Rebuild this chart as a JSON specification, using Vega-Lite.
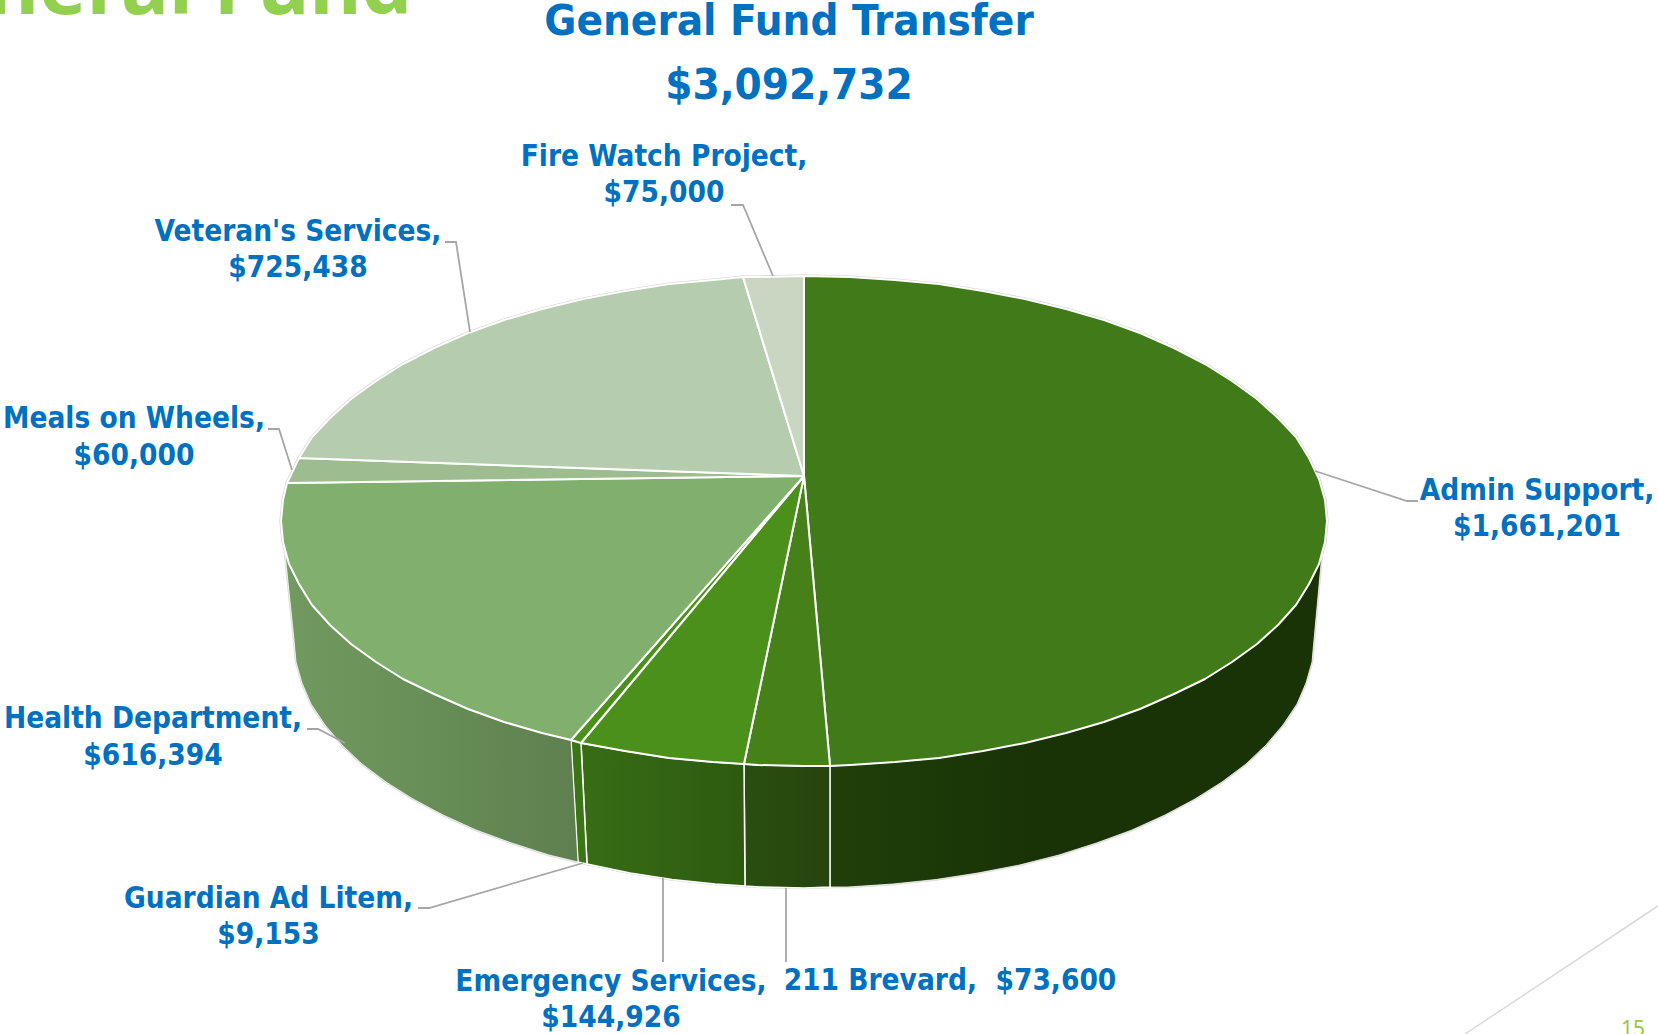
{"$schema":"https://vega.github.io/schema/vega-lite/v6.json","width":1658,"height":1034,"padding":0,"autosize":{"type":"none"},"background":"white","view":{"stroke":null},
"datasets":{
"top":[
{"s":"Admin Support","i":0,"x":804,"y":476},{"s":"Admin Support","i":1,"x":804,"y":276},{"s":"Admin Support","i":2,"x":850,"y":277},{"s":"Admin Support","i":3,"x":895,"y":280},{"s":"Admin Support","i":4,"x":939,"y":284},{"s":"Admin Support","i":5,"x":983,"y":291},{"s":"Admin Support","i":6,"x":1025,"y":299},{"s":"Admin Support","i":7,"x":1066,"y":309},{"s":"Admin Support","i":8,"x":1104,"y":320},{"s":"Admin Support","i":9,"x":1140,"y":333},{"s":"Admin Support","i":10,"x":1174,"y":348},{"s":"Admin Support","i":11,"x":1205,"y":364},{"s":"Admin Support","i":12,"x":1232,"y":381},{"s":"Admin Support","i":13,"x":1257,"y":399},{"s":"Admin Support","i":14,"x":1278,"y":418},{"s":"Admin Support","i":15,"x":1296,"y":437},{"s":"Admin Support","i":16,"x":1309,"y":458},{"s":"Admin Support","i":17,"x":1319,"y":479},{"s":"Admin Support","i":18,"x":1325,"y":500},{"s":"Admin Support","i":19,"x":1327,"y":521},{"s":"Admin Support","i":20,"x":1325,"y":542},{"s":"Admin Support","i":21,"x":1319,"y":564},{"s":"Admin Support","i":22,"x":1309,"y":584},{"s":"Admin Support","i":23,"x":1296,"y":605},{"s":"Admin Support","i":24,"x":1278,"y":625},{"s":"Admin Support","i":25,"x":1257,"y":644},{"s":"Admin Support","i":26,"x":1232,"y":662},{"s":"Admin Support","i":27,"x":1205,"y":679},{"s":"Admin Support","i":28,"x":1174,"y":694},{"s":"Admin Support","i":29,"x":1140,"y":709},{"s":"Admin Support","i":30,"x":1104,"y":722},{"s":"Admin Support","i":31,"x":1066,"y":733},{"s":"Admin Support","i":32,"x":1025,"y":743},{"s":"Admin Support","i":33,"x":983,"y":751},{"s":"Admin Support","i":34,"x":939,"y":758},{"s":"Admin Support","i":35,"x":895,"y":762},{"s":"Admin Support","i":36,"x":850,"y":765},{"s":"Admin Support","i":37,"x":830,"y":766},{"s":"Admin Support","i":38,"x":804,"y":476},
{"s":"211 Brevard","i":0,"x":804,"y":476},{"s":"211 Brevard","i":1,"x":830,"y":766},{"s":"211 Brevard","i":2,"x":804,"y":766},{"s":"211 Brevard","i":3,"x":758,"y":765},{"s":"211 Brevard","i":4,"x":744,"y":764},{"s":"211 Brevard","i":5,"x":804,"y":476},
{"s":"Emergency Services","i":0,"x":804,"y":476},{"s":"Emergency Services","i":1,"x":744,"y":764},{"s":"Emergency Services","i":2,"x":713,"y":762},{"s":"Emergency Services","i":3,"x":669,"y":758},{"s":"Emergency Services","i":4,"x":625,"y":751},{"s":"Emergency Services","i":5,"x":581,"y":743},{"s":"Emergency Services","i":6,"x":804,"y":476},
{"s":"Guardian Ad Litem","i":0,"x":804,"y":476},{"s":"Guardian Ad Litem","i":1,"x":581,"y":743},{"s":"Guardian Ad Litem","i":2,"x":571,"y":740},{"s":"Guardian Ad Litem","i":3,"x":804,"y":476},
{"s":"Health Department","i":0,"x":804,"y":476},{"s":"Health Department","i":1,"x":571,"y":740},{"s":"Health Department","i":2,"x":542,"y":733},{"s":"Health Department","i":3,"x":504,"y":722},{"s":"Health Department","i":4,"x":468,"y":709},{"s":"Health Department","i":5,"x":434,"y":694},{"s":"Health Department","i":6,"x":403,"y":679},{"s":"Health Department","i":7,"x":376,"y":662},{"s":"Health Department","i":8,"x":351,"y":644},{"s":"Health Department","i":9,"x":330,"y":625},{"s":"Health Department","i":10,"x":312,"y":605},{"s":"Health Department","i":11,"x":299,"y":584},{"s":"Health Department","i":12,"x":289,"y":564},{"s":"Health Department","i":13,"x":283,"y":542},{"s":"Health Department","i":14,"x":281,"y":521},{"s":"Health Department","i":15,"x":283,"y":500},{"s":"Health Department","i":16,"x":287,"y":483},{"s":"Health Department","i":17,"x":804,"y":476},
{"s":"Meals on Wheels","i":0,"x":804,"y":476},{"s":"Meals on Wheels","i":1,"x":287,"y":483},{"s":"Meals on Wheels","i":2,"x":289,"y":479},{"s":"Meals on Wheels","i":3,"x":299,"y":458},{"s":"Meals on Wheels","i":4,"x":804,"y":476},
{"s":"Veteran's Services","i":0,"x":804,"y":476},{"s":"Veteran's Services","i":1,"x":299,"y":458},{"s":"Veteran's Services","i":2,"x":312,"y":437},{"s":"Veteran's Services","i":3,"x":330,"y":418},{"s":"Veteran's Services","i":4,"x":351,"y":399},{"s":"Veteran's Services","i":5,"x":376,"y":381},{"s":"Veteran's Services","i":6,"x":403,"y":364},{"s":"Veteran's Services","i":7,"x":434,"y":348},{"s":"Veteran's Services","i":8,"x":468,"y":333},{"s":"Veteran's Services","i":9,"x":504,"y":320},{"s":"Veteran's Services","i":10,"x":542,"y":309},{"s":"Veteran's Services","i":11,"x":583,"y":299},{"s":"Veteran's Services","i":12,"x":625,"y":291},{"s":"Veteran's Services","i":13,"x":669,"y":284},{"s":"Veteran's Services","i":14,"x":713,"y":280},{"s":"Veteran's Services","i":15,"x":743,"y":277},{"s":"Veteran's Services","i":16,"x":804,"y":476},
{"s":"Fire Watch Project","i":0,"x":804,"y":476},{"s":"Fire Watch Project","i":1,"x":743,"y":277},{"s":"Fire Watch Project","i":2,"x":758,"y":277},{"s":"Fire Watch Project","i":3,"x":804,"y":276},{"s":"Fire Watch Project","i":4,"x":804,"y":476}
],
"side":[
{"s":"Admin Support","i":0,"x":1322,"y":553},{"s":"Admin Support","i":1,"x":1319,"y":564},{"s":"Admin Support","i":2,"x":1309,"y":584},{"s":"Admin Support","i":3,"x":1296,"y":605},{"s":"Admin Support","i":4,"x":1278,"y":625},{"s":"Admin Support","i":5,"x":1257,"y":644},{"s":"Admin Support","i":6,"x":1232,"y":662},{"s":"Admin Support","i":7,"x":1205,"y":679},{"s":"Admin Support","i":8,"x":1174,"y":694},{"s":"Admin Support","i":9,"x":1140,"y":709},{"s":"Admin Support","i":10,"x":1104,"y":722},{"s":"Admin Support","i":11,"x":1066,"y":733},{"s":"Admin Support","i":12,"x":1025,"y":743},{"s":"Admin Support","i":13,"x":983,"y":751},{"s":"Admin Support","i":14,"x":939,"y":758},{"s":"Admin Support","i":15,"x":895,"y":762},{"s":"Admin Support","i":16,"x":850,"y":765},{"s":"Admin Support","i":17,"x":830,"y":766},{"s":"Admin Support","i":18,"x":830,"y":887},{"s":"Admin Support","i":19,"x":848,"y":887},{"s":"Admin Support","i":20,"x":893,"y":884},{"s":"Admin Support","i":21,"x":936,"y":879.5},{"s":"Admin Support","i":22,"x":978,"y":873},{"s":"Admin Support","i":23,"x":1019.5,"y":865},{"s":"Admin Support","i":24,"x":1059,"y":855},{"s":"Admin Support","i":25,"x":1096.5,"y":843},{"s":"Admin Support","i":26,"x":1132,"y":830},{"s":"Admin Support","i":27,"x":1165,"y":815},{"s":"Admin Support","i":28,"x":1195,"y":799},{"s":"Admin Support","i":29,"x":1222,"y":782},{"s":"Admin Support","i":30,"x":1246,"y":764},{"s":"Admin Support","i":31,"x":1266,"y":745},{"s":"Admin Support","i":32,"x":1283,"y":725},{"s":"Admin Support","i":33,"x":1297,"y":704},{"s":"Admin Support","i":34,"x":1306,"y":683},{"s":"Admin Support","i":35,"x":1312,"y":662},{"s":"Admin Support","i":36,"x":1314,"y":640},{"s":"Admin Support","i":37,"x":1322,"y":553},
{"s":"211 Brevard","i":0,"x":830,"y":766},{"s":"211 Brevard","i":1,"x":804,"y":766},{"s":"211 Brevard","i":2,"x":758,"y":765},{"s":"211 Brevard","i":3,"x":744,"y":764},{"s":"211 Brevard","i":4,"x":745,"y":886},{"s":"211 Brevard","i":5,"x":760,"y":887},{"s":"211 Brevard","i":6,"x":804,"y":888},{"s":"211 Brevard","i":7,"x":830,"y":887},{"s":"211 Brevard","i":8,"x":830,"y":766},
{"s":"Emergency Services","i":0,"x":744,"y":764},{"s":"Emergency Services","i":1,"x":713,"y":762},{"s":"Emergency Services","i":2,"x":669,"y":758},{"s":"Emergency Services","i":3,"x":625,"y":751},{"s":"Emergency Services","i":4,"x":581,"y":743},{"s":"Emergency Services","i":5,"x":587,"y":864},{"s":"Emergency Services","i":6,"x":630,"y":873},{"s":"Emergency Services","i":7,"x":672,"y":879.5},{"s":"Emergency Services","i":8,"x":715,"y":884},{"s":"Emergency Services","i":9,"x":745,"y":886},{"s":"Emergency Services","i":10,"x":744,"y":764},
{"s":"Guardian Ad Litem","i":0,"x":581,"y":743},{"s":"Guardian Ad Litem","i":1,"x":571,"y":740},{"s":"Guardian Ad Litem","i":2,"x":578,"y":862},{"s":"Guardian Ad Litem","i":3,"x":587,"y":864},{"s":"Guardian Ad Litem","i":4,"x":581,"y":743},
{"s":"Health Department","i":0,"x":571,"y":740},{"s":"Health Department","i":1,"x":542,"y":733},{"s":"Health Department","i":2,"x":504,"y":722},{"s":"Health Department","i":3,"x":468,"y":709},{"s":"Health Department","i":4,"x":434,"y":694},{"s":"Health Department","i":5,"x":403,"y":679},{"s":"Health Department","i":6,"x":376,"y":662},{"s":"Health Department","i":7,"x":351,"y":644},{"s":"Health Department","i":8,"x":330,"y":625},{"s":"Health Department","i":9,"x":312,"y":605},{"s":"Health Department","i":10,"x":299,"y":584},{"s":"Health Department","i":11,"x":289,"y":564},{"s":"Health Department","i":12,"x":285,"y":553},{"s":"Health Department","i":13,"x":294,"y":640},{"s":"Health Department","i":14,"x":296,"y":662},{"s":"Health Department","i":15,"x":302,"y":683},{"s":"Health Department","i":16,"x":311,"y":704},{"s":"Health Department","i":17,"x":325,"y":725},{"s":"Health Department","i":18,"x":342,"y":745},{"s":"Health Department","i":19,"x":362,"y":764},{"s":"Health Department","i":20,"x":386,"y":782},{"s":"Health Department","i":21,"x":413,"y":799},{"s":"Health Department","i":22,"x":443,"y":815},{"s":"Health Department","i":23,"x":476,"y":830},{"s":"Health Department","i":24,"x":511.5,"y":843},{"s":"Health Department","i":25,"x":549,"y":855},{"s":"Health Department","i":26,"x":578,"y":862},{"s":"Health Department","i":27,"x":571,"y":740}
],
"leaders":[
{"k":"Fire","i":0,"x":731,"y":205},{"k":"Fire","i":1,"x":743,"y":205},{"k":"Fire","i":2,"x":773,"y":276},
{"k":"Vet","i":0,"x":445,"y":242},{"k":"Vet","i":1,"x":456,"y":242},{"k":"Vet","i":2,"x":470,"y":332},
{"k":"Meals","i":0,"x":268,"y":429},{"k":"Meals","i":1,"x":279,"y":429},{"k":"Meals","i":2,"x":292,"y":470},
{"k":"Health","i":0,"x":307,"y":729},{"k":"Health","i":1,"x":318,"y":729},{"k":"Health","i":2,"x":345,"y":743},
{"k":"Guardian","i":0,"x":418,"y":908},{"k":"Guardian","i":1,"x":429,"y":908},{"k":"Guardian","i":2,"x":583,"y":863},
{"k":"Emergency","i":0,"x":663,"y":878},{"k":"Emergency","i":1,"x":663,"y":962},
{"k":"211","i":0,"x":786,"y":888},{"k":"211","i":1,"x":786,"y":962},
{"k":"Admin","i":0,"x":1315,"y":471},{"k":"Admin","i":1,"x":1407,"y":501},{"k":"Admin","i":2,"x":1418,"y":501}
],
"diag":[{"i":0,"x":1465,"y":1034},{"i":1,"x":1658,"y":906}],
"labels":[
{"t":"Fire Watch Project,","x":664,"y":156.5},{"t":"$75,000","x":664,"y":192.5},
{"t":"Veteran's Services,","x":298,"y":231.5},{"t":"$725,438","x":298,"y":267.5},
{"t":"Meals on Wheels,","x":134,"y":419},{"t":"$60,000","x":134,"y":456},
{"t":"Health Department,","x":153,"y":719},{"t":"$616,394","x":153,"y":756},
{"t":"Guardian Ad Litem,","x":268.5,"y":899},{"t":"$9,153","x":268.5,"y":935},
{"t":"Emergency Services,","x":611,"y":982},{"t":"$144,926","x":611,"y":1018},
{"t":"211 Brevard, \u00a0$73,600","x":950,"y":981},
{"t":"Admin Support,","x":1537,"y":491},{"t":"$1,661,201","x":1537,"y":527}
],
"titles":[{"t":"General Fund Transfer","x":789,"y":22},{"t":"$3,092,732","x":789,"y":86}],
"heading":[{"t":"General Fund","x":412,"y":14}],
"page":[{"t":"15","x":1633,"y":1030}]
},
"encoding":{
"x":{"field":"x","type":"quantitative","axis":null,"scale":{"domain":[0,1658],"nice":false,"zero":false}},
"y":{"field":"y","type":"quantitative","axis":null,"scale":{"domain":[1034,0],"nice":false,"zero":false}}
},
"layer":[
{"data":{"name":"top"},"mark":{"type":"line","stroke":"#d0d0d0","strokeWidth":3.2,"strokeJoin":"round","fill":null},"encoding":{"detail":{"field":"s"},"order":{"field":"i","type":"quantitative"}}},
{"data":{"name":"side"},"mark":{"type":"line","stroke":"#d8d8d8","strokeWidth":2.5,"strokeJoin":"round","fill":null},"encoding":{"detail":{"field":"s"},"order":{"field":"i","type":"quantitative"}}},
{"data":{"name":"side"},"transform":[{"filter":"datum.s==='Admin Support'"}],"mark":{"type":"line","fill":{"gradient":"linear","x1":0,"y1":0,"x2":1,"y2":0,"stops":[{"offset":0,"color":"#1f3f0a"},{"offset":0.4,"color":"#193306"},{"offset":1,"color":"#193306"}]},"stroke":"#ffffff","strokeWidth":0.8,"strokeJoin":"round"},"encoding":{"order":{"field":"i","type":"quantitative"}}},
{"data":{"name":"side"},"transform":[{"filter":"datum.s==='211 Brevard'"}],"mark":{"type":"line","fill":{"gradient":"linear","x1":0,"y1":0,"x2":1,"y2":0,"stops":[{"offset":0,"color":"#2a4e10"},{"offset":1,"color":"#26440d"}]},"stroke":"#ffffff","strokeWidth":1.5,"strokeJoin":"round"},"encoding":{"order":{"field":"i","type":"quantitative"}}},
{"data":{"name":"side"},"transform":[{"filter":"datum.s==='Emergency Services'"}],"mark":{"type":"line","fill":{"gradient":"linear","x1":0,"y1":0,"x2":1,"y2":0,"stops":[{"offset":0,"color":"#386d15"},{"offset":1,"color":"#2d5a10"}]},"stroke":"#ffffff","strokeWidth":1.5,"strokeJoin":"round"},"encoding":{"order":{"field":"i","type":"quantitative"}}},
{"data":{"name":"side"},"transform":[{"filter":"datum.s==='Guardian Ad Litem'"}],"mark":{"type":"line","fill":"#3c7516","stroke":"#ffffff","strokeWidth":1.5,"strokeJoin":"round"},"encoding":{"order":{"field":"i","type":"quantitative"}}},
{"data":{"name":"side"},"transform":[{"filter":"datum.s==='Health Department'"}],"mark":{"type":"line","fill":{"gradient":"linear","x1":0,"y1":0,"x2":1,"y2":0,"stops":[{"offset":0,"color":"#72995f"},{"offset":0.5,"color":"#668e56"},{"offset":1,"color":"#5f7f50"}]},"stroke":"#ffffff","strokeWidth":0.8,"strokeJoin":"round"},"encoding":{"order":{"field":"i","type":"quantitative"}}},
{"data":{"name":"top"},"mark":{"type":"line","stroke":"#ffffff","strokeWidth":2,"strokeJoin":"round"},"encoding":{"fill":{"field":"s","type":"nominal","legend":null,"scale":{"domain":["Admin Support","211 Brevard","Emergency Services","Guardian Ad Litem","Health Department","Meals on Wheels","Veteran's Services","Fire Watch Project"],"range":["#417b19","#458019","#4c901c","#4c901c","#80af6e","#9dbd90","#b6ccae","#c9d7c2"]}},"order":{"field":"i","type":"quantitative"}}},
{"data":{"name":"leaders"},"mark":{"type":"line","stroke":"#a6a6a6","strokeWidth":1.8},"encoding":{"detail":{"field":"k"},"order":{"field":"i","type":"quantitative"}}},
{"data":{"name":"diag"},"mark":{"type":"line","stroke":"#d9d9d9","strokeWidth":1.5},"encoding":{"order":{"field":"i","type":"quantitative"}}},
{"data":{"name":"labels"},"mark":{"type":"text","font":"DejaVu Sans Condensed","fontWeight":"bold","fontSize":29.5,"fill":"#0070c0","align":"center","baseline":"middle"},"encoding":{"text":{"field":"t"}}},
{"data":{"name":"titles"},"mark":{"type":"text","font":"DejaVu Sans Condensed","fontWeight":"bold","fontSize":43.5,"fill":"#0070c0","align":"center","baseline":"middle"},"encoding":{"text":{"field":"t"}}},
{"data":{"name":"heading"},"mark":{"type":"text","font":"Noto Sans","fontWeight":"bold","fontSize":80,"fill":"#92d050","align":"right","baseline":"alphabetic","clip":true},"encoding":{"text":{"field":"t"}}},
{"data":{"name":"page"},"mark":{"type":"text","font":"Noto Sans","fontSize":21,"fill":"#9bc83a","align":"center","baseline":"middle","clip":true},"encoding":{"text":{"field":"t"}}}
]}
